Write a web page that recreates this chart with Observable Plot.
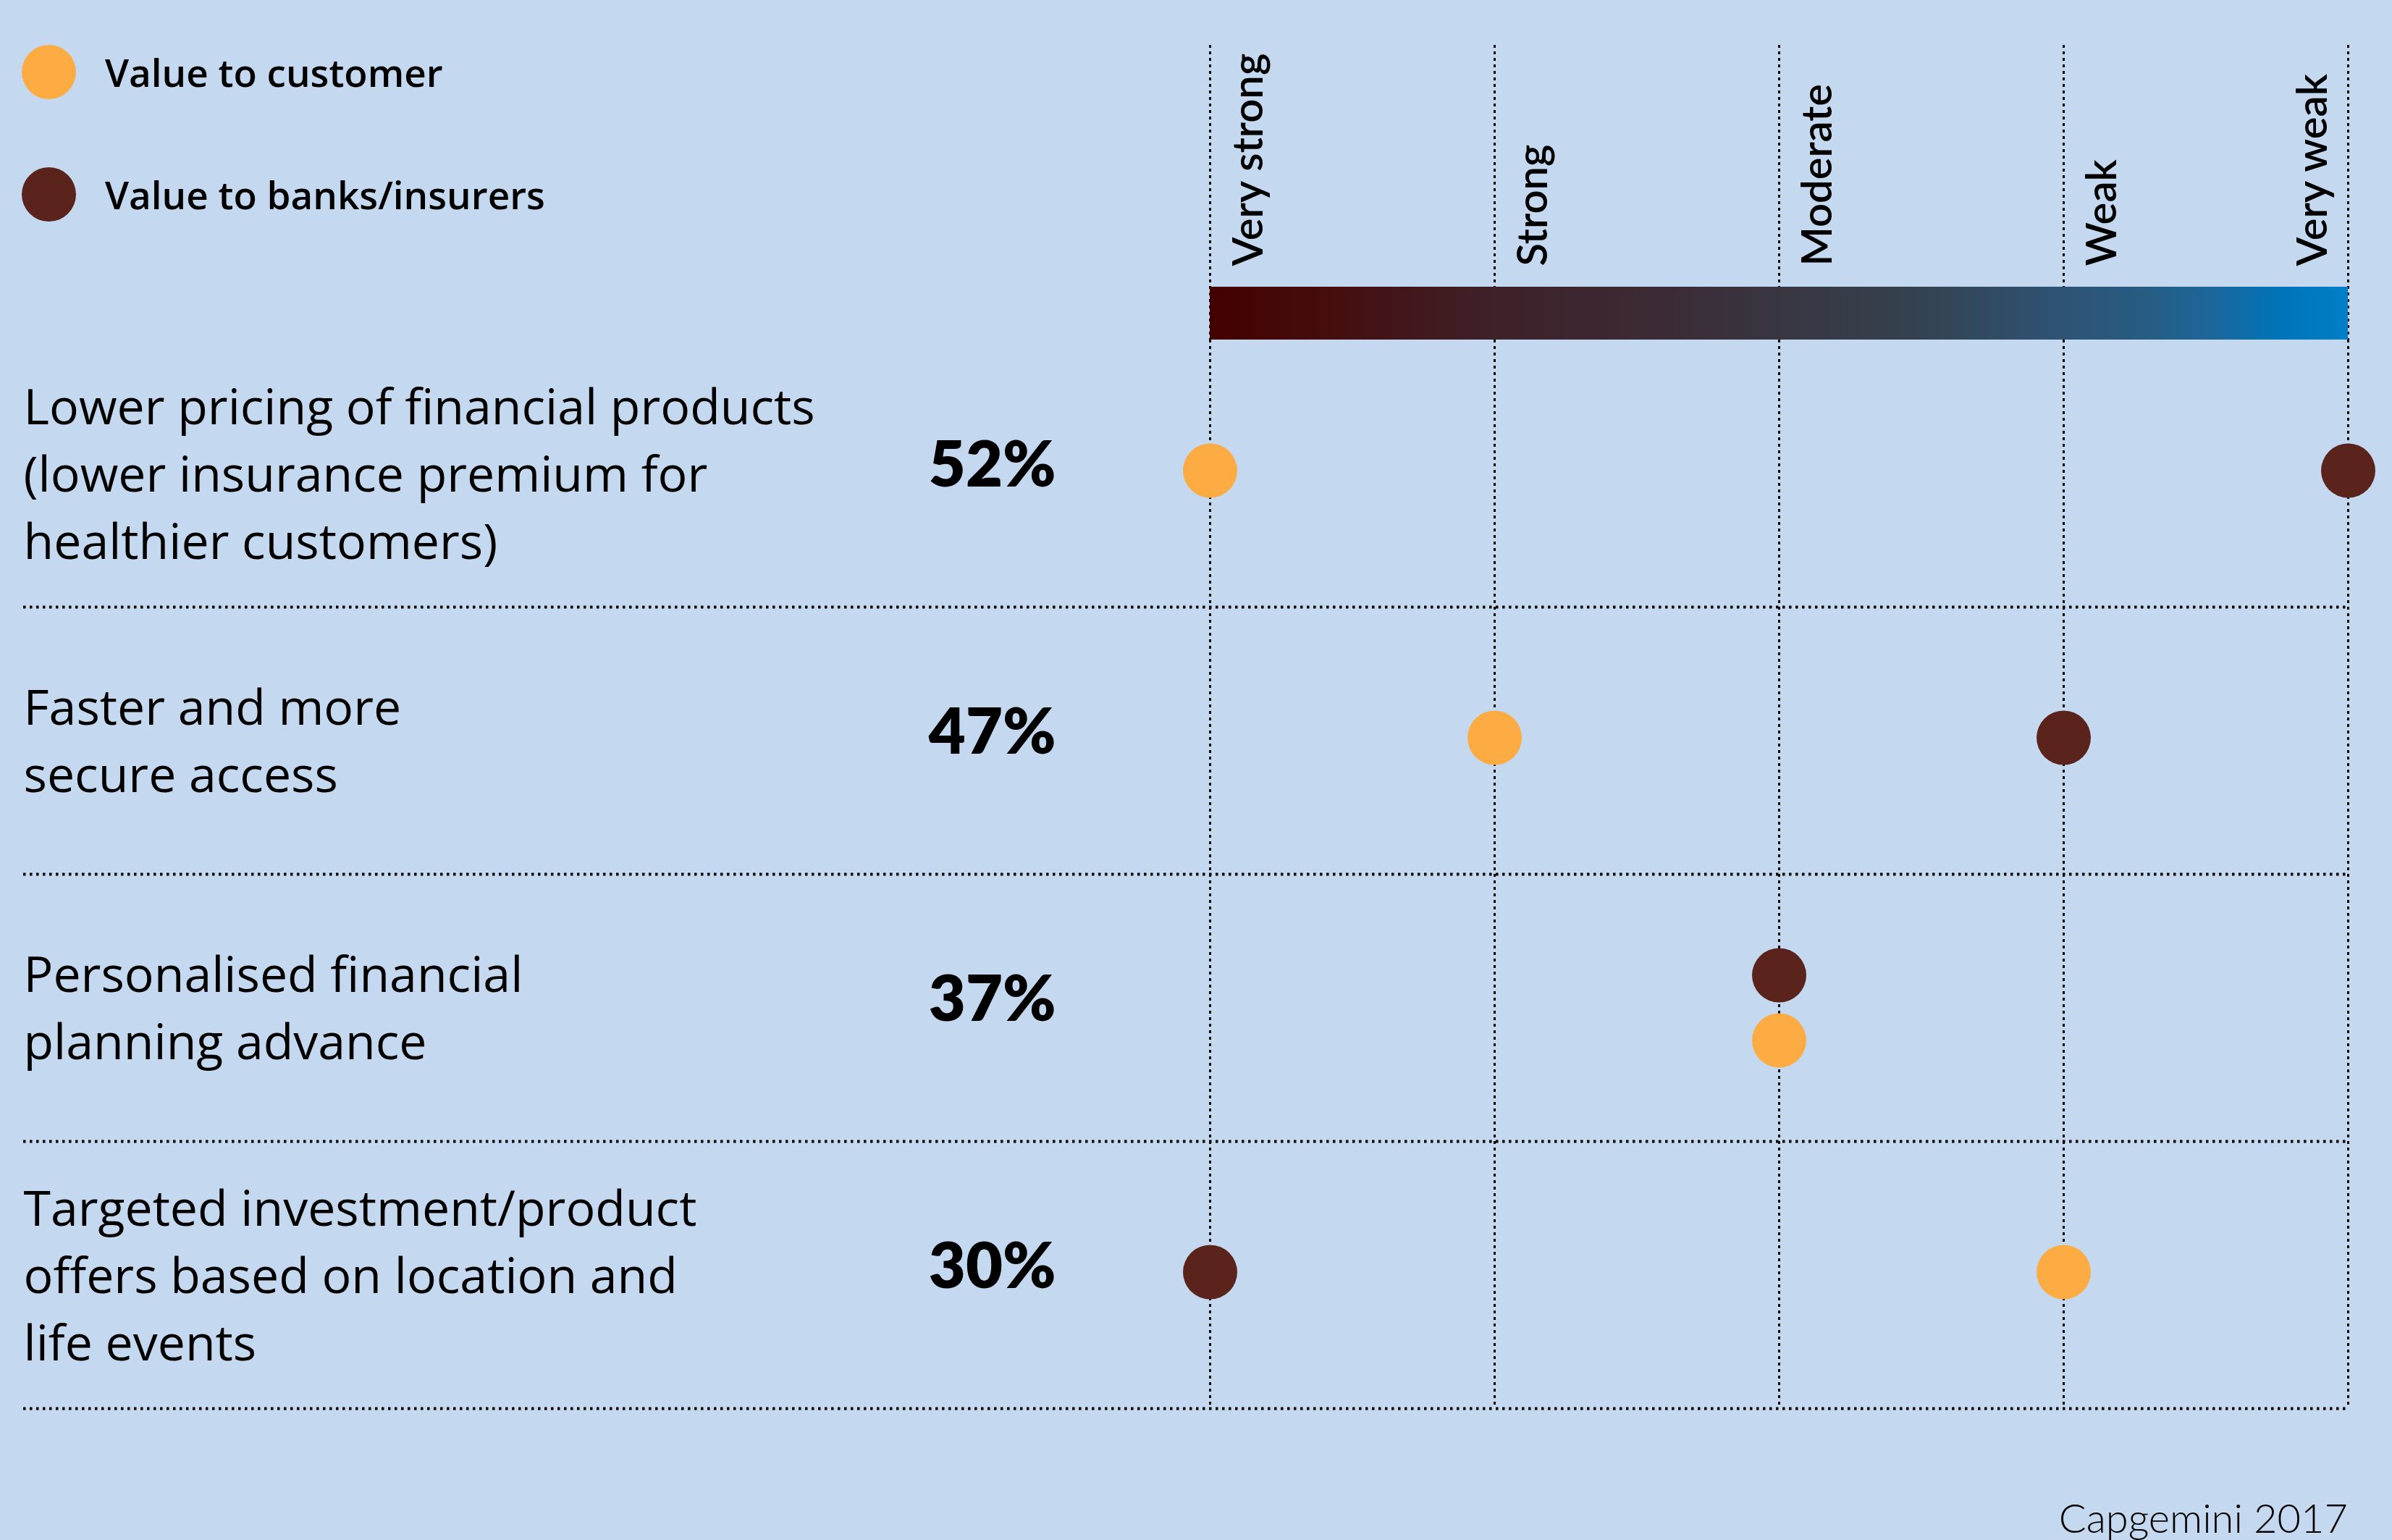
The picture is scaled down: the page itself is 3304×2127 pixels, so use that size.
<!DOCTYPE html>
<html>
<head>
<meta charset="utf-8">
<script src="https://cdn.jsdelivr.net/npm/d3@7"></script>
<script src="https://cdn.jsdelivr.net/npm/@observablehq/plot@0.6"></script>
<style>
  html, body { margin: 0; padding: 0; background: #c4d8ef; overflow: hidden; }
  #page { position: relative; width: 3304px; height: 2127px; background: #c4d8ef; font-family: Lato, "Noto Sans", sans-serif; color: #000; }
  #page svg { display: block; }
  #legend { position: absolute; left: 30px; top: 62px; }
  .item { display: flex; align-items: center; height: 75px; margin-bottom: 94px; }
  .swatch { width: 75px; height: 75px; border-radius: 50%; margin-right: 40px; }
  .label { font-family: "Open Sans", Lato, sans-serif; font-size: 53px; font-weight: 600; }
  #caption { position: absolute; right: 61px; top: 2068px; font-size: 56px; font-weight: 300; line-height: 1; }
</style>
</head>
<body>
<div id="page">
  <div id="charts"></div>
  <div id="legend"></div>
  <div id="caption"></div>
</div>
<script>
// ---- Data ----
const levels = ["Very strong", "Strong", "Moderate", "Weak", "Very weak"];
const categories = [
  "Lower pricing of financial products\n(lower insurance premium for\nhealthier customers)",
  "Faster and more\nsecure access",
  "Personalised financial\nplanning advance",
  "Targeted investment/product\noffers based on location and\nlife events"
];
const shares = [52, 47, 37, 30];
const valueToCustomer = ["Very strong", "Strong", "Moderate", "Weak"];
const valueToBanks = ["Very weak", "Weak", "Moderate", "Very strong"];
const series = ["Value to customer", "Value to banks/insurers"];
const seriesColors = ["#fdab43", "#5a231c"];
const gradientStops = [
  [0.00, "#430000"], [0.10, "#450d0d"], [0.25, "#3e2129"], [0.40, "#3b2b36"],
  [0.50, "#383641"], [0.62, "#34424f"], [0.74, "#2e5272"], [0.82, "#275c82"],
  [0.88, "#1c6699"], [0.94, "#0074b9"], [1.00, "#007fc8"]
];
const captionText = "Capgemini 2017";

// ---- Table ----
const rows = categories.map((c, i) => ({category: c, share: shares[i], customer: valueToCustomer[i], banks: valueToBanks[i]}));
const points = rows.flatMap(r => [
  {category: r.category, series: series[0], level: r.customer, collide: r.customer === r.banks},
  {category: r.category, series: series[1], level: r.banks, collide: r.customer === r.banks}
]);

// ---- Layout ----
const W = 3304, H = 2127;
const headerH = 469;
const xRange = [1671, 3243];
const mainH = H - headerH;
const mainBottom = 182;
const bandH = (mainH - mainBottom) / categories.length;
const font = "Lato, 'Noto Sans', sans-serif";
const labelFont = "'Open Sans', Lato, sans-serif";
const dotR = 37.5;
const collideOffset = 45;

const gradientDefs = () => {
  const defs = d3.create("svg:defs");
  const g = defs.append("linearGradient").attr("id", "strengthGradient").attr("x1", "0").attr("x2", "1").attr("y1", "0").attr("y2", "0");
  gradientStops.forEach(([o, c]) => g.append("stop").attr("offset", o).attr("stop-color", c));
  return defs.node();
};

const xScale = {type: "point", domain: levels, range: xRange, padding: 0, axis: null};

const header = Plot.plot({
  width: W, height: headerH,
  marginTop: 62, marginBottom: 0, marginLeft: 32, marginRight: W - xRange[1],
  x: xScale,
  style: {background: "transparent", fontFamily: font, overflow: "visible"},
  marks: [
    gradientDefs,
    Plot.ruleX(levels, {x: d => d, stroke: "#000", strokeWidth: 3, strokeDasharray: "4,5"}),
    Plot.rect([levels], {x1: d => d[0], x2: d => d[d.length - 1], fill: "url(#strengthGradient)", insetTop: 334}),
    Plot.text(levels.slice(0, -1), {x: d => d, text: d => d, rotate: -90, frameAnchor: "bottom", textAnchor: "start", dy: -102, dx: 72, fontSize: 58, fontWeight: 600, fill: "#000"}),
    Plot.text(levels.slice(-1), {x: d => d, text: d => d, rotate: -90, frameAnchor: "bottom", textAnchor: "start", dy: -102, dx: -30, fontSize: 58, fontWeight: 600, fill: "#000"})
  ]
});

const main = Plot.plot({
  width: W, height: mainH,
  marginTop: 0, marginBottom: mainBottom, marginLeft: 32, marginRight: W - xRange[1],
  x: xScale,
  y: {type: "band", domain: categories, padding: 0, axis: null},
  color: {domain: series, range: seriesColors},
  style: {background: "transparent", fontFamily: font, overflow: "visible"},
  marks: [
    Plot.ruleX(levels, {x: d => d, stroke: "#000", strokeWidth: 3, strokeDasharray: "4,5"}),
    Plot.ruleY(categories, {y: d => d, dy: bandH / 2, stroke: "#000", strokeWidth: 4, strokeDasharray: "3.5,5.5"}),
    Plot.text(rows, {y: "category", text: "category", frameAnchor: "left", textAnchor: "start", dy: -5, fontSize: 68, fontFamily: labelFont, lineHeight: 1.37, fill: "#000"}),
    Plot.text(rows, {y: "category", text: d => d.share + "%", frameAnchor: "left", textAnchor: "end", dx: 1426, dy: -10, fontSize: 88, fontWeight: 800, fill: "#000"}),
    Plot.dot(points.filter(p => !p.collide), {x: "level", y: "category", r: dotR, fill: "series", dy: -4}),
    Plot.dot(points.filter(p => p.collide && p.series === series[1]), {x: "level", y: "category", r: dotR, fill: "series", dy: -collideOffset}),
    Plot.dot(points.filter(p => p.collide && p.series === series[0]), {x: "level", y: "category", r: dotR, fill: "series", dy: collideOffset})
  ]
});

document.getElementById("charts").append(header, main);

const legend = document.getElementById("legend");
series.forEach((s, i) => {
  const item = document.createElement("div");
  item.className = "item";
  const sw = document.createElement("div");
  sw.className = "swatch";
  sw.style.background = seriesColors[i];
  const lb = document.createElement("div");
  lb.className = "label";
  lb.textContent = s;
  item.append(sw, lb);
  legend.append(item);
});
document.getElementById("caption").textContent = captionText;
</script>
</body>
</html>
